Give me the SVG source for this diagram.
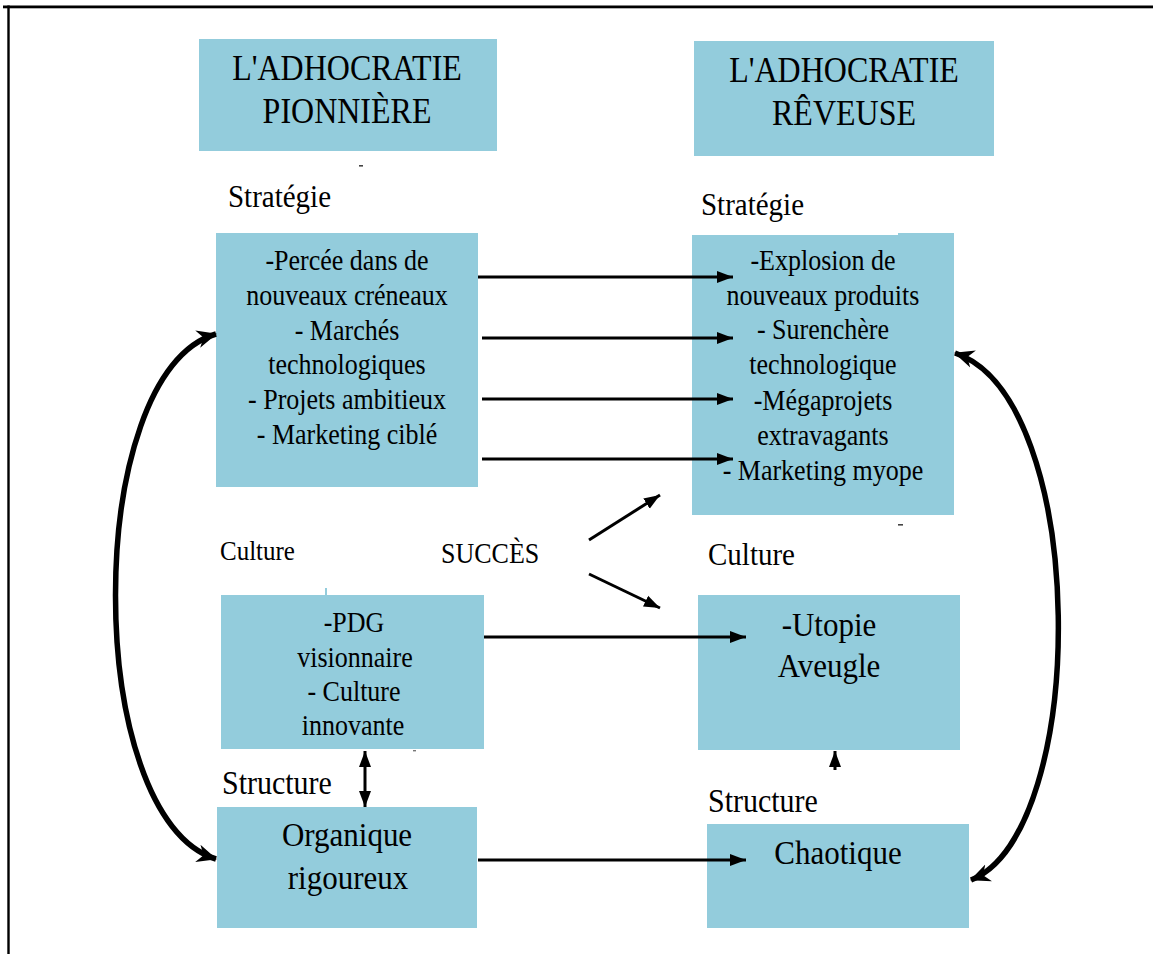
<svg xmlns="http://www.w3.org/2000/svg" width="1153" height="954" viewBox="0 0 1153 954" font-family="Liberation Serif, DejaVu Serif, Times New Roman, serif">
  <style>
    .box { fill: #93CCDC; }
    text { font-family: 'Liberation Serif', 'DejaVu Serif', 'Times New Roman', serif; fill: #000; }
    .c { text-anchor: middle; }
    .link { stroke: #000; stroke-width: 3; fill: none; }
    .loop { stroke: #000; stroke-width: 5.5; fill: none; }
  </style>
  <defs>
    <marker id="tri" markerUnits="userSpaceOnUse" markerWidth="18" markerHeight="14" refX="16" refY="7" orient="auto">
      <path d="M0,1 L16,7 L0,13 Z" fill="#000"/>
    </marker>
    <marker id="triStart" markerUnits="userSpaceOnUse" markerWidth="18" markerHeight="14" refX="16" refY="7" orient="auto-start-reverse">
      <path d="M0,1 L16,7 L0,13 Z" fill="#000"/>
    </marker>
    <marker id="barb" markerUnits="userSpaceOnUse" markerWidth="22" markerHeight="20" refX="19" refY="10" orient="auto-start-reverse">
      <path d="M0,1 L20,10 L0,19 L6,10 Z" fill="#000"/>
    </marker>
  </defs>

  <!-- page frame (top and left rules) -->
  <rect x="3" y="5.5" width="1150" height="2.8" fill="#000"/>
  <rect x="7.3" y="5.5" width="2.4" height="948.5" fill="#000"/>

  <!-- text is set slightly tall: each line is placed by translate, then stretched vertically -->

  <!-- titles -->
  <g id="title-pionniere">
    <rect class="box" x="199" y="39" width="298" height="112"/>
    <text class="c" transform="translate(347 80) scale(1 1.12)" font-size="32">L'ADHOCRATIE</text>
    <text class="c" transform="translate(347 123) scale(1 1.12)" font-size="32">PIONNIÈRE</text>
  </g>
  <g id="title-reveuse">
    <rect class="box" x="694" y="41" width="300" height="115"/>
    <text class="c" transform="translate(844 82) scale(1 1.12)" font-size="32">L'ADHOCRATIE</text>
    <text class="c" transform="translate(844 125) scale(1 1.12)" font-size="32">RÊVEUSE</text>
  </g>

  <!-- section labels -->
  <g id="labels">
    <text transform="translate(228 207) scale(1 1.1)" font-size="29">Stratégie</text>
    <text transform="translate(701 215) scale(1 1.1)" font-size="29">Stratégie</text>
    <text transform="translate(220 560) scale(1 1.1)" font-size="25">Culture</text>
    <text transform="translate(441 563) scale(1 1.1)" font-size="26">SUCCÈS</text>
    <text transform="translate(708 565) scale(1 1.1)" font-size="29">Culture</text>
    <text transform="translate(222 794) scale(1 1.1)" font-size="30">Structure</text>
    <text transform="translate(708 812) scale(1 1.1)" font-size="30">Structure</text>
  </g>

  <!-- strategy boxes -->
  <g id="strategie-pionniere">
    <rect class="box" x="216" y="233" width="262" height="254"/>
    <text class="c" transform="translate(347 270) scale(1 1.1)" font-size="26">-Percée dans de</text>
    <text class="c" transform="translate(347 305) scale(1 1.1)" font-size="26">nouveaux créneaux</text>
    <text class="c" transform="translate(347 340) scale(1 1.1)" font-size="26">- Marchés</text>
    <text class="c" transform="translate(347 374) scale(1 1.1)" font-size="26">technologiques</text>
    <text class="c" transform="translate(347 409) scale(1 1.1)" font-size="26">- Projets ambitieux</text>
    <text class="c" transform="translate(347 444) scale(1 1.1)" font-size="26">- Marketing ciblé</text>
  </g>
  <g id="strategie-reveuse">
    <rect class="box" x="692" y="235" width="262" height="280"/>
    <rect class="box" x="898" y="233" width="56" height="4"/>
    <text class="c" transform="translate(823 270) scale(1 1.1)" font-size="26">-Explosion de</text>
    <text class="c" transform="translate(823 305) scale(1 1.1)" font-size="26">nouveaux produits</text>
    <text class="c" transform="translate(823 339) scale(1 1.1)" font-size="26">- Surenchère</text>
    <text class="c" transform="translate(823 374) scale(1 1.1)" font-size="26">technologique</text>
    <text class="c" transform="translate(823 410) scale(1 1.1)" font-size="26">-Mégaprojets</text>
    <text class="c" transform="translate(823 445) scale(1 1.1)" font-size="26">extravagants</text>
    <text class="c" transform="translate(823 480) scale(1 1.1)" font-size="26">- Marketing myope</text>
  </g>

  <!-- culture boxes -->
  <g id="culture-pionniere">
    <rect class="box" x="221" y="595" width="263" height="154"/>
    <rect class="box" x="325" y="588" width="2" height="8"/>
    <text class="c" transform="translate(354 632) scale(1 1.1)" font-size="26">-PDG</text>
    <text class="c" transform="translate(355 667) scale(1 1.1)" font-size="26">visionnaire</text>
    <text class="c" transform="translate(354 701) scale(1 1.1)" font-size="26">- Culture</text>
    <text class="c" transform="translate(353 735) scale(1 1.1)" font-size="26">innovante</text>
  </g>
  <g id="culture-reveuse">
    <rect class="box" x="698" y="595" width="262" height="155"/>
    <text class="c" transform="translate(829 636) scale(1 1.1)" font-size="31">-Utopie</text>
    <text class="c" transform="translate(829 677) scale(1 1.1)" font-size="31">Aveugle</text>
  </g>

  <!-- structure boxes -->
  <g id="structure-pionniere">
    <rect class="box" x="217" y="807" width="260" height="121"/>
    <text class="c" transform="translate(347 846) scale(1 1.1)" font-size="31">Organique</text>
    <text class="c" transform="translate(348 889) scale(1 1.1)" font-size="31">rigoureux</text>
  </g>
  <g id="structure-reveuse">
    <rect class="box" x="707" y="824" width="262" height="104"/>
    <text class="c" transform="translate(838 864) scale(1 1.1)" font-size="31">Chaotique</text>
  </g>

  <!-- stray ticks -->
  <g id="ticks">
    <rect x="359" y="165" width="4" height="1.6" fill="#444"/>
    <rect x="898" y="524" width="5" height="1.6" fill="#444"/>
    <rect x="413" y="750" width="3" height="1.4" fill="#777"/>
  </g>

  <!-- connectors -->
  <g id="connectors">
    <line class="link" x1="478" y1="277" x2="733" y2="277" marker-end="url(#tri)"/>
    <line class="link" x1="482" y1="338" x2="733" y2="338" marker-end="url(#tri)"/>
    <line class="link" x1="482" y1="399" x2="733" y2="399" marker-end="url(#tri)"/>
    <line class="link" x1="482" y1="459" x2="733" y2="459" marker-end="url(#tri)"/>
    <line class="link" x1="589" y1="540" x2="660" y2="495" marker-end="url(#tri)"/>
    <line class="link" x1="589" y1="574" x2="660" y2="608" marker-end="url(#tri)"/>
    <line class="link" x1="484" y1="637" x2="746" y2="637" marker-end="url(#tri)"/>
    <line class="link" x1="478" y1="860" x2="746" y2="860" marker-end="url(#tri)"/>
    <line class="link" x1="365" y1="751" x2="365" y2="807" marker-start="url(#triStart)" marker-end="url(#tri)"/>
    <line class="link" x1="835" y1="770" x2="835" y2="751" marker-end="url(#tri)"/>
    <path class="loop" d="M216,334 C82,372 82,818 216,859" marker-start="url(#barb)" marker-end="url(#barb)"/>
    <path class="loop" d="M955,353 C1090,398 1090,832 971,880" marker-start="url(#barb)" marker-end="url(#barb)"/>
  </g>
</svg>
